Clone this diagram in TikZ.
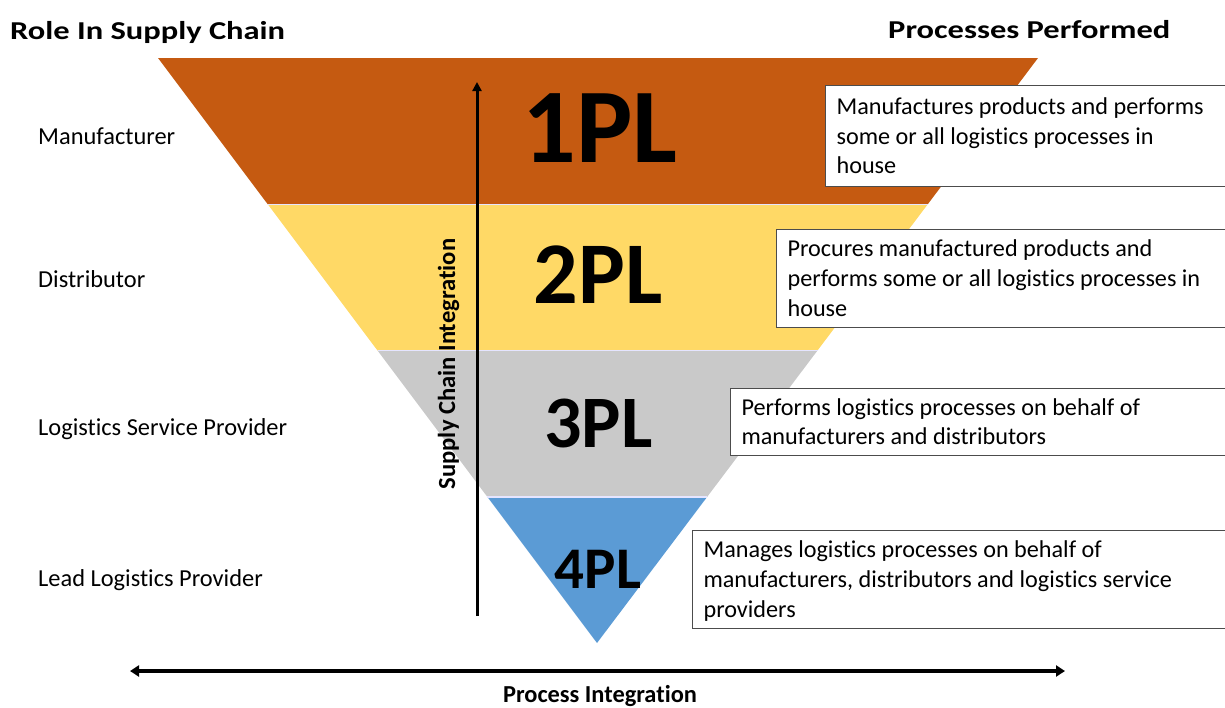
\documentclass[tikz,border=0pt]{standalone}
\usepackage{fontspec}
\setmainfont{Carlito}[Ligatures=NoCommon]
\usepackage{tikz}
\usetikzlibrary{calc,arrows.meta}
\definecolor{onepl}{RGB}{197,90,17}
\definecolor{twopl}{RGB}{255,217,102}
\definecolor{threepl}{RGB}{201,201,201}
\definecolor{fourpl}{RGB}{91,155,213}
\newcommand{\topstrut}{\rule{0pt}{25pt}}

\begin{document}
\begin{tikzpicture}[x=1pt, y=-1pt,
  role/.style={anchor=base west, inner sep=0pt, font=\fontsize{24.4}{29.7}\selectfont},
  head/.style={inner sep=0pt, font=\bfseries\fontsize{25}{30}\selectfont},
  pl/.style={anchor=base, inner sep=0pt, font=\bfseries\fontsize{#1}{#1}\selectfont},
  box/.style={draw=black!70, line width=1.1pt, fill=white, anchor=north west, align=flush left, inner xsep=11pt, inner ysep=0pt, font=\fontsize{24.2}{29.7}\selectfont},
  sep/.style={white!90!blue, line width=1.5pt},
  axis/.style={line width=3pt, line cap=butt}]
\useasboundingbox (0,0) rectangle (1225,707);

% the funnel
\coordinate (tl) at (158,58);
\coordinate (tr) at (1038,58);
\coordinate (ap) at (597,643);
\fill[onepl] (tl) -- (tr) -- ($(tr)!0.25!(ap)$) -- ($(tl)!0.25!(ap)$) -- cycle;
\fill[twopl] ($(tl)!0.25!(ap)$) -- ($(tr)!0.25!(ap)$) -- ($(tr)!0.5!(ap)$) -- ($(tl)!0.5!(ap)$) -- cycle;
\fill[threepl] ($(tl)!0.5!(ap)$) -- ($(tr)!0.5!(ap)$) -- ($(tr)!0.75!(ap)$) -- ($(tl)!0.75!(ap)$) -- cycle;
\fill[fourpl] ($(tl)!0.75!(ap)$) -- ($(tr)!0.75!(ap)$) -- (ap) -- cycle;
\draw[sep] ($(tl)!0.25!(ap)$) -- ($(tr)!0.25!(ap)$);
\draw[sep] ($(tl)!0.5!(ap)$) -- ($(tr)!0.5!(ap)$);
\draw[sep] ($(tl)!0.75!(ap)$) -- ($(tr)!0.75!(ap)$);

\node[pl=106] (1pl) at (600,162) {1PL};
\node[pl=88] (2pl) at (598,303) {2PL};
\node[pl=74] (3pl) at (598.5,447) {3PL};
\node[pl=59] (4pl) at (598,588) {4PL};

% headings
\node[head, anchor=base west] (rolehead) at (10,39) {\scalebox{1.3}[1.03]{Role In Supply Chain}};
\node[head, anchor=base west] (prochead) at (888,38) {\scalebox{1.3}[1.03]{Processes Performed}};

% roles
\node[role] (r1) at (38,144) {Manufacturer};
\node[role] (r2) at (38,287) {Distributor};
\node[role] (r3) at (38,435) {Logistics Service Provider};
\node[role] (r4) at (38,586) {Lead Logistics Provider};

% processes (right sides run off the page)
\node[box, text width=420pt, minimum height=101pt] (p1) at (825,85)
  {\topstrut Manufactures products and performs\\ some or all logistics processes in\\ house\strut};
\node[box, text width=470pt, minimum height=98pt] (p2) at (776,229)
  {\topstrut Procures manufactured products and\\ performs some or all logistics processes in\\ house\strut};
\node[box, text width=515pt, minimum height=67pt] (p3) at (730,388)
  {\topstrut Performs logistics processes on behalf of\\ manufacturers and distributors\strut};
\node[box, text width=555pt, minimum height=98pt] (p4) at (692,530)
  {\topstrut Manages logistics processes on behalf of\\ manufacturers, distributors and logistics service\\ providers\strut};

% axes
\coordinate (v0) at (477,616);
\coordinate (v1) at (477,82);
\draw[axis, -{Triangle[length=9pt,width=9pt]}] (v0) -- (v1);
\node[head, rotate=90, anchor=base, font=\bfseries\fontsize{24.6}{30}\selectfont] (vlabel) at (455,364) {Supply Chain Integration};

\coordinate (h0) at (130,671);
\coordinate (h1) at (1065,671);
\draw[axis, line width=3.4pt, {Triangle[length=9pt,width=11pt]}-{Triangle[length=9pt,width=11pt]}] (h0) -- (h1);
\node[head, anchor=base, font=\bfseries\fontsize{24.4}{30}\selectfont] (hlabel) at (600,702) {Process Integration};
\end{tikzpicture}
\end{document}
